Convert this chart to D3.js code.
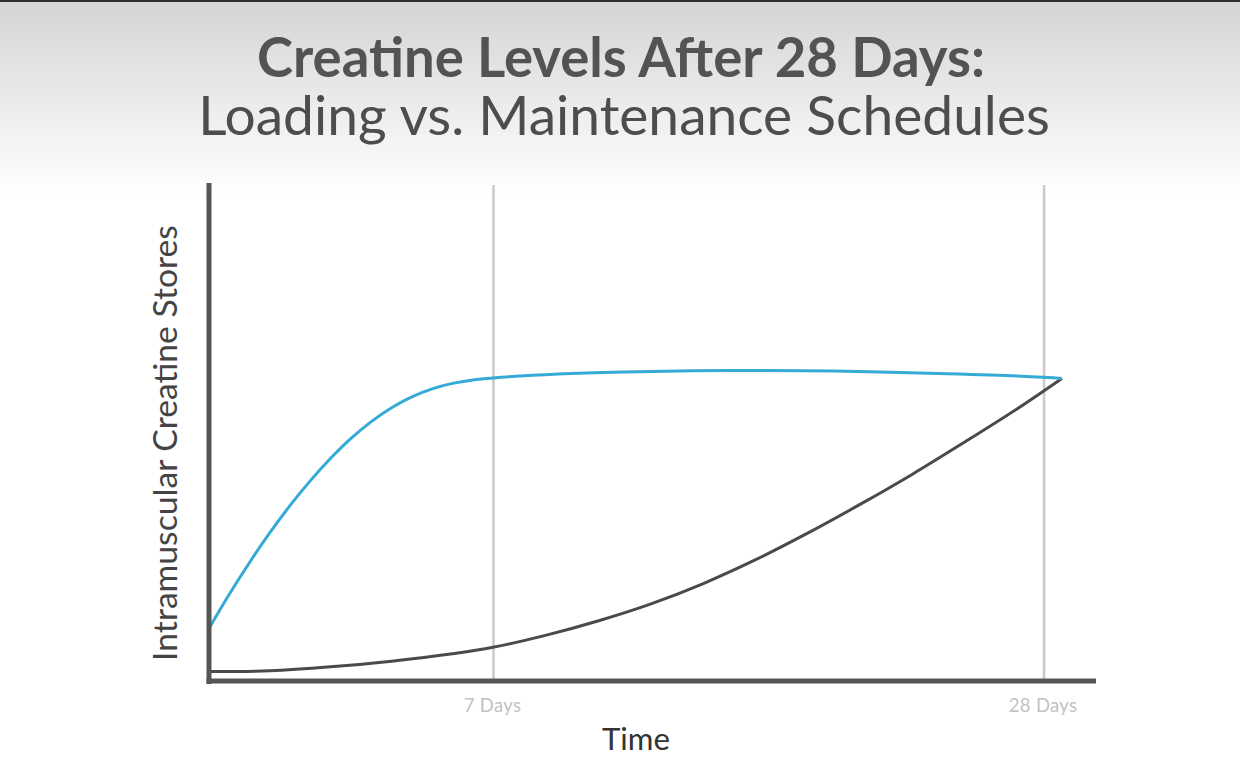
<!DOCTYPE html>
<html>
<head>
<meta charset="utf-8">
<script src="https://cdn.jsdelivr.net/npm/d3@7"></script>
<style>
  html, body { margin: 0; padding: 0; background: #ffffff; }
  svg { display: block; }
</style>
</head>
<body>
<svg id="chart" width="1240" height="758"></svg>
<script>
// ---- Data ----
const titleLines = ["Creatine Levels After 28 Days:", "Loading vs. Maintenance Schedules"];
const xAxisTitle = "Time";
const yAxisTitle = "Intramuscular Creatine Stores";
const tickDays = [7, 28];
const tickLabels = ["7 Days", "28 Days"];

// Loading schedule (blue): day -> relative stores (0-100)
const loadingDays   = [0, 0.5, 1, 1.5, 2, 2.5, 3, 3.5, 4, 4.5, 5, 5.5, 6, 6.5, 7, 9.5, 12, 16, 20, 24, 27, 28.7];
const loadingValues = [10.6, 17.5, 23.9, 29.9, 35.4, 40.4, 44.9, 48.9, 52.3, 55.1, 57.3, 58.9, 60.0, 60.7, 61.1, 61.9, 62.3, 62.6, 62.5, 62.0, 61.5, 61.0];

// Maintenance schedule (dark): day -> relative stores (0-100)
const maintDays   = [0, 1.5, 3, 4.5, 6, 7, 9, 11, 13, 15, 17, 19, 21, 23, 25, 27, 28.7];
const maintValues = [1.9, 2.05, 2.85, 4.0, 5.5, 6.8, 9.2, 12.1, 15.5, 19.6, 24.4, 29.8, 35.6, 41.7, 48.2, 54.9, 61.0];

// ---- Layout ----
const svg = d3.select("#chart");
const W = 1240, H = 758;
const FONT = "Lato, 'Open Sans', sans-serif";

const defs = svg.append("defs");
const grad = defs.append("linearGradient").attr("id", "bg").attr("x1", 0).attr("y1", 0).attr("x2", 0).attr("y2", 1);
grad.append("stop").attr("offset", "0%").attr("stop-color", "#d4d4d4");
grad.append("stop").attr("offset", "55%").attr("stop-color", "#ececec");
grad.append("stop").attr("offset", "100%").attr("stop-color", "#ffffff");

svg.append("rect").attr("x", 0).attr("y", 0).attr("width", W).attr("height", H).attr("fill", "#ffffff");
svg.append("rect").attr("x", 0).attr("y", 0).attr("width", W).attr("height", 195).attr("fill", "url(#bg)");
svg.append("rect").attr("x", 0).attr("y", 0).attr("width", W).attr("height", 2).attr("fill", "#2e2e2e");

const x = d3.scaleLinear().domain([0, 7, 30]).range([209, 493, 1096]);
const y = d3.scaleLinear().domain([0, 100]).range([681, 185]);

function fitText(sel, targetWidth) {
  const fs = parseFloat(sel.attr("font-size"));
  const len = sel.node().getComputedTextLength();
  sel.attr("font-size", fs * targetWidth / len);
}

// Title
const t1 = svg.append("text").attr("x", 621).attr("y", 77).attr("text-anchor", "middle")
  .attr("font-family", FONT).attr("font-weight", 700)
  .attr("font-size", 44).attr("fill", "#535353").text(titleLines[0]);
fitText(t1, 728);
const t2 = svg.append("text").attr("x", 624).attr("y", 135).attr("text-anchor", "middle")
  .attr("font-family", FONT).attr("font-weight", 400)
  .attr("font-size", 44).attr("fill", "#4d4d4d").text(titleLines[1]);
fitText(t2, 852);

// Gridlines via axis
const tickMap = new Map(tickDays.map((d, i) => [d, tickLabels[i]]));
const grid = svg.append("g").attr("transform", `translate(0,${y(0)})`)
  .call(d3.axisBottom(x).tickValues(tickDays).tickSize(-(y(0) - y(100))).tickFormat(""));
grid.select(".domain").remove();
grid.selectAll(".tick line").attr("stroke", "#c9c9c9").attr("stroke-width", 2.5);

// Tick labels via axis
const ticks = svg.append("g").attr("transform", `translate(0,${y(0)})`)
  .call(d3.axisBottom(x).tickValues(tickDays).tickSize(0).tickPadding(18).tickFormat(d => tickMap.get(d)));
ticks.select(".domain").remove();
ticks.selectAll(".tick text").attr("font-family", FONT)
  .attr("font-size", 18.5).attr("fill", "#c2c2c2").attr("dx", -1).attr("letter-spacing", 0.3);

// Curves
const line = d3.line().x(d => x(d[0])).y(d => y(d[1])).curve(d3.curveCatmullRom.alpha(0.5));
const loading = loadingDays.map((d, i) => [d, loadingValues[i]]);
const maint = maintDays.map((d, i) => [d, maintValues[i]]);

svg.append("path").datum(maint).attr("d", line).attr("fill", "none")
  .attr("stroke", "#4a4a4a").attr("stroke-width", 3).attr("stroke-linejoin", "round");
svg.append("path").datum(loading).attr("d", line).attr("fill", "none")
  .attr("stroke", "#36aad6").attr("stroke-width", 3).attr("stroke-linejoin", "round");

// Axis lines
svg.append("line").attr("x1", x(0)).attr("x2", x(0)).attr("y1", y(100) - 2).attr("y2", y(0) + 3)
  .attr("stroke", "#555555").attr("stroke-width", 5);
svg.append("line").attr("x1", x(0) - 2.5).attr("x2", x(30)).attr("y1", y(0)).attr("y2", y(0))
  .attr("stroke", "#555555").attr("stroke-width", 5);

// Axis titles
const xt = svg.append("text").attr("x", 636).attr("y", 750).attr("text-anchor", "middle")
  .attr("font-family", FONT).attr("font-size", 27)
  .attr("fill", "#333333").text(xAxisTitle);
fitText(xt, 68);
const yt = svg.append("text").attr("transform", `translate(177,443) rotate(-90)`).attr("text-anchor", "middle")
  .attr("font-family", FONT).attr("font-size", 25)
  .attr("fill", "#444444").text(yAxisTitle);
fitText(yt, 436);
</script>
</body>
</html>
